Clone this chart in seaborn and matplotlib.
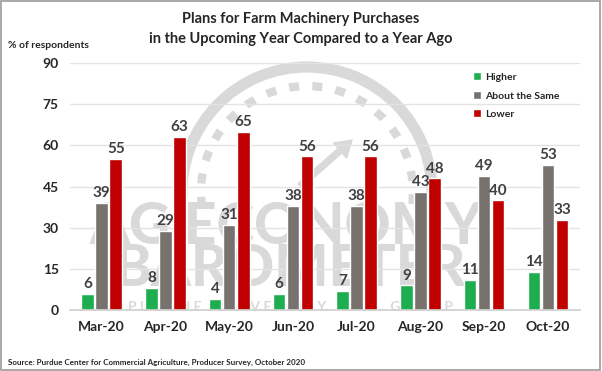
import matplotlib
matplotlib.use("Agg")
import matplotlib.pyplot as plt
import seaborn as sns
import pandas as pd
from matplotlib.patches import Rectangle, Arc, FancyArrow

months = ["Mar-20", "Apr-20", "May-20", "Jun-20", "Jul-20", "Aug-20", "Sep-20", "Oct-20"]
higher = [6, 8, 4, 6, 7, 9, 11, 14]
same = [39, 29, 31, 38, 38, 43, 49, 53]
lower = [55, 63, 65, 56, 56, 48, 40, 33]
series = ["Higher", "About the Same", "Lower"]
colors = ["#1fae4f", "#77726e", "#c00000"]
yticks = [0, 15, 30, 45, 60, 75, 90]

rows = []
for name, vals in zip(series, [higher, same, lower]):
    for m, v in zip(months, vals):
        rows.append({"month": m, "series": name, "value": v})
df = pd.DataFrame(rows)

sns.set_theme(style="white")
plt.rcParams["font.family"] = ["Lato", "DejaVu Sans"]
plt.rcParams["font.weight"] = "bold"

fig = plt.figure(figsize=(6.02, 3.71), dpi=100)

# background watermark layer (pixel coordinates)
bg = fig.add_axes([0, 0, 1, 1], zorder=0)
bg.set_xlim(0, 602)
bg.set_ylim(371, 0)
bg.axis("off")
wm = "#d9d9d9"
bg.add_patch(Arc((307, 192), 250, 250, theta1=-182, theta2=2, color=wm, linewidth=8))
bg.add_patch(Arc((307, 192), 212, 212, theta1=-188, theta2=8, color=wm, linewidth=6,
                 linestyle=(0, (1.2, 1.6))))
bg.add_patch(FancyArrow(300, 186, 52, -46, width=6, head_width=20, head_length=16,
                        color=wm, length_includes_head=True))
bg.text(286, 227, "AG ECONOMY", ha="center", va="center", fontsize=41,
        fontweight="black", color=wm)
bg.text(290, 270, "BAROMETER", ha="center", va="center", fontsize=41,
        fontweight="black", color=wm)
bg.text(290, 307, "P U R D U E    U N I V E R S I T Y    C M E    G R O U P", ha="center",
        va="center", fontsize=10, fontweight="bold", color=wm)

ax = fig.add_axes([0.116, 0.164, 0.847, 0.666], zorder=1)
ax.patch.set_alpha(0)

sns.barplot(data=df, x="month", y="value", hue="series", hue_order=series,
            palette=colors, width=0.66, gap=0.1, ax=ax, legend=True, saturation=1)

for cont in ax.containers:
    ax.bar_label(cont, labels=[f"{int(v)}" for v in cont.datavalues], padding=2,
                 fontsize=11, fontweight="bold", color="#404040")

ax.set_ylim(0, 90)
ax.set_yticks(yticks)
ax.set_yticklabels([str(t) for t in yticks])
ax.set_xlim(-0.5, len(months) - 0.5)
ax.yaxis.grid(True, color="#e3e3e3", linewidth=1)
ax.set_axisbelow(True)
for s in ["top", "right", "left"]:
    ax.spines[s].set_visible(False)
ax.spines["bottom"].set_color("#d0d0d0")
ax.tick_params(axis="both", length=0, labelsize=10, colors="#262626", pad=8)
for lab in ax.get_xticklabels() + ax.get_yticklabels():
    lab.set_fontweight("bold")
ax.set_xlabel("")
ax.set_ylabel("")

leg = ax.legend(loc="upper left", bbox_to_anchor=(0.772, 1.0), frameon=False,
                fontsize=7.5, handlelength=0.8, handleheight=0.8, handletextpad=0.4,
                labelspacing=0.85)
for t in leg.get_texts():
    t.set_fontweight("bold")
    t.set_color("#262626")

fig.text(0.5, 0.95, "Plans for Farm Machinery Purchases", ha="center", va="center",
         fontsize=10.5, fontweight="bold", color="#262626")
fig.text(0.5, 0.895, "in the Upcoming Year Compared to a Year Ago", ha="center", va="center",
         fontsize=10.5, fontweight="bold", color="#262626")
fig.text(0.013, 0.878, "% of respondents", ha="left", va="center",
         fontsize=7.5, fontweight="bold", color="#262626")
fig.text(0.013, 0.022, "Source: Purdue Center for Commercial Agriculture, Producer Survey, October 2020",
         ha="left", va="center", fontsize=5.8, fontweight="bold", color="#262626")

fig.patches.append(Rectangle((0.002, 0.003), 0.995, 0.993, transform=fig.transFigure,
                             fill=False, edgecolor="#9a9a9a", linewidth=1.2))

fig.savefig("out.png", dpi=100)
